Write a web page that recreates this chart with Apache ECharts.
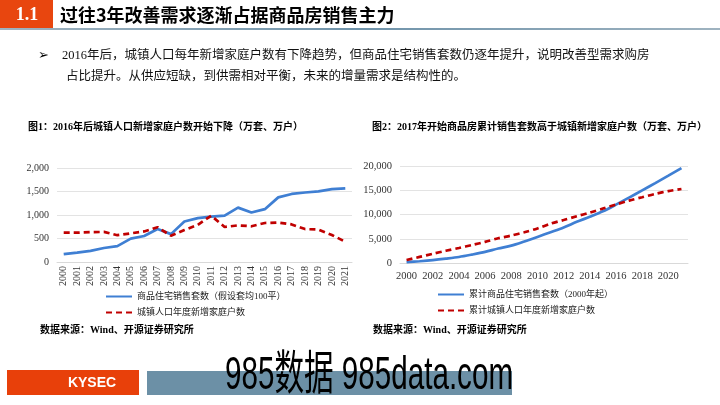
<!DOCTYPE html>
<html>
<head>
<meta charset="utf-8">
<script src="https://cdn.jsdelivr.net/npm/echarts@6/dist/echarts.min.js"></script>
<style>html,body{margin:0;padding:0;background:#fff;}#c{width:720px;height:405px;}</style>
</head>
<body>
<div id="c"></div>
<script>
const years = ['2000','2001','2002','2003','2004','2005','2006','2007','2008','2009','2010','2011','2012','2013','2014','2015','2016','2017','2018','2019','2020','2021'];
const salesUnits = [166,199,237,298,338,496,554,701,593,862,934,965,985,1157,1052,1124,1375,1448,1479,1501,1549,1565];
const newHouseholds = [625,625,635,640,570,610,650,740,560,680,790,985,745,780,760,830,840,800,700,690,575,430];
const cumSales = [166,365,602,900,1238,1734,2288,2989,3582,4444,5378,6343,7328,8485,9537,10661,12036,13484,14963,16464,18013,19578];
const cumHouseholds = [625,1250,1885,2525,3095,3705,4355,5095,5655,6335,7125,8110,8855,9635,10395,11225,12065,12865,13565,14255,14830,15260];
const yTicks1 = [0,500,1000,1500,2000];
const yTicks2 = [0,5000,10000,15000,20000];

const BLUE = '#3f7fd3';
const RED = '#c00000';
const SERIF = '"Liberation Serif","Noto Sans CJK SC",serif';
const CJK = '"Liberation Serif","Noto Sans CJK SC",sans-serif';

const chart = echarts.init(document.getElementById('c'), null, {renderer:'canvas'});

function fmt(v){ return v.toLocaleString('en-US'); }

const option = {
  animation:false,
  backgroundColor:'#fff',
  graphic:[
    {type:'rect', shape:{x:0,y:0,width:53,height:29}, style:{fill:'#e8460f'}},
    {type:'text', x:27, y:15, style:{text:'1.1', fill:'#fff', font:'bold 18px "Liberation Serif",serif', textAlign:'center', textVerticalAlign:'middle'}},
    {type:'text', x:60, y:15, style:{text:'过往3年改善需求逐渐占据商品房销售主力', fill:'#000', font:'bold 18px "Noto Sans CJK SC",sans-serif', textVerticalAlign:'middle'}},
    {type:'rect', shape:{x:0,y:28,width:720,height:2}, style:{fill:new echarts.graphic.LinearGradient(0,0,1,0,[{offset:0,color:'#9fb3c0'},{offset:0.5,color:'#6f93aa'},{offset:1,color:'#9fb3c0'}])}},
    {type:'text', x:38, y:56, style:{text:'➢', fill:'#000', font:'bold 13px "DejaVu Sans",sans-serif', textVerticalAlign:'middle'}},
    {type:'text', x:62, y:56, style:{text:'2016年后，城镇人口每年新增家庭户数有下降趋势，但商品住宅销售套数仍逐年提升，说明改善型需求购房', fill:'#111', font:'12.5px '+CJK, textVerticalAlign:'middle'}},
    {type:'text', x:66, y:77, style:{text:'占比提升。从供应短缺，到供需相对平衡，未来的增量需求是结构性的。', fill:'#111', font:'12.5px '+CJK, textVerticalAlign:'middle'}},
    {type:'text', x:28, y:127, style:{text:'图1：2016年后城镇人口新增家庭户数开始下降（万套、万户）', fill:'#000', font:'bold 10px '+CJK, textVerticalAlign:'middle'}},
    {type:'text', x:372, y:127, style:{text:'图2：2017年开始商品房累计销售套数高于城镇新增家庭户数（万套、万户）', fill:'#000', font:'bold 10px '+CJK, textVerticalAlign:'middle'}},
    {type:'text', x:40, y:330, style:{text:'数据来源：Wind、开源证券研究所', fill:'#000', font:'bold 10px '+CJK, textVerticalAlign:'middle'}},
    {type:'text', x:373, y:330, style:{text:'数据来源：Wind、开源证券研究所', fill:'#000', font:'bold 10px '+CJK, textVerticalAlign:'middle'}},
    {type:'rect', shape:{x:7,y:370,width:132,height:25}, style:{fill:'#e8400a'}},
    {type:'text', x:92, y:383, style:{text:'KYSEC', fill:'#fff', font:'bold 14px "Liberation Sans",sans-serif', textAlign:'center', textVerticalAlign:'middle'}},
    {type:'rect', shape:{x:147,y:371,width:365,height:24}, style:{fill:'#6c90a6'}},
    {type:'text', x:225, y:376, scaleX:0.63, originX:0, originY:0, style:{text:'985数据 985data.com', fill:'#000', font:'47px "Liberation Sans","Noto Sans CJK SC",sans-serif', textVerticalAlign:'middle'}}
  ],
  legend:[
    {left:105, top:292, padding:0, orient:'vertical', itemWidth:26, itemHeight:10, itemGap:7,
     itemStyle:{opacity:0},
     textStyle:{fontSize:9, fontFamily:CJK, color:'#222'},
     data:['商品住宅销售套数（假设套均100平）','城镇人口年度新增家庭户数']},
    {left:437, top:290, padding:0, orient:'vertical', itemWidth:26, itemHeight:10, itemGap:7,
     itemStyle:{opacity:0},
     textStyle:{fontSize:9, fontFamily:CJK, color:'#222'},
     data:['累计商品住宅销售套数（2000年起）','累计城镇人口年度新增家庭户数']}
  ],
  grid:[
    {left:57, right:368, top:168, bottom:143},
    {left:400, right:32, top:166, bottom:142}
  ],
  xAxis:[
    {type:'category', gridIndex:0, data:years, boundaryGap:true,
     axisLine:{lineStyle:{color:'#d9d9d9'}}, axisTick:{show:false},
     axisLabel:{rotate:90, fontSize:10, fontFamily:SERIF, color:'#333', margin:4, interval:0}},
    {type:'category', gridIndex:1, data:years, boundaryGap:true,
     axisLine:{lineStyle:{color:'#d9d9d9'}}, axisTick:{show:false},
     axisLabel:{fontSize:10.5, fontFamily:SERIF, color:'#333', margin:8, interval:1}}
  ],
  yAxis:[
    {type:'value', gridIndex:0, min:yTicks1[0], max:yTicks1[yTicks1.length-1], interval:500,
     axisLine:{show:false}, axisTick:{show:false},
     splitLine:{lineStyle:{color:'#e3e3e3'}},
     axisLabel:{fontSize:10, fontFamily:SERIF, color:'#333', margin:8, formatter:fmt}},
    {type:'value', gridIndex:1, min:yTicks2[0], max:yTicks2[yTicks2.length-1], interval:5000,
     axisLine:{show:false}, axisTick:{show:false},
     splitLine:{lineStyle:{color:'#e3e3e3'}},
     axisLabel:{fontSize:10.5, fontFamily:SERIF, color:'#333', margin:8, formatter:fmt}}
  ],
  series:[
    {name:'商品住宅销售套数（假设套均100平）', type:'line', xAxisIndex:0, yAxisIndex:0, data:salesUnits, symbol:'none',
     lineStyle:{color:BLUE, width:2.7}, itemStyle:{color:BLUE}},
    {name:'城镇人口年度新增家庭户数', type:'line', xAxisIndex:0, yAxisIndex:0, data:newHouseholds, symbol:'none',
     lineStyle:{color:RED, width:2.7, type:[6,4]}, itemStyle:{color:RED}},
    {name:'累计商品住宅销售套数（2000年起）', type:'line', xAxisIndex:1, yAxisIndex:1, data:cumSales, symbol:'none', smooth:0.3,
     lineStyle:{color:BLUE, width:2.7}, itemStyle:{color:BLUE}},
    {name:'累计城镇人口年度新增家庭户数', type:'line', xAxisIndex:1, yAxisIndex:1, data:cumHouseholds, symbol:'none', smooth:0.3,
     lineStyle:{color:RED, width:2.7, type:[6,4]}, itemStyle:{color:RED}}
  ]
};
chart.setOption(option);
</script>
</body>
</html>
